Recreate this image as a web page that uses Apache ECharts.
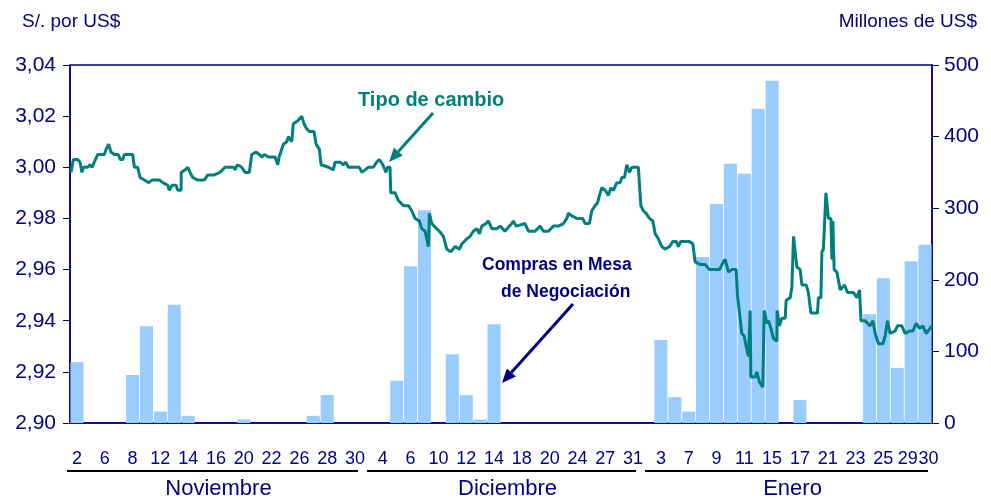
<!DOCTYPE html>
<html>
<head>
<meta charset="utf-8">
<script src="https://cdn.jsdelivr.net/npm/echarts@6.0.0/dist/echarts.min.js"></script>
<style>
  html, body { margin: 0; padding: 0; background: #fff; }
  #chart { width: 991px; height: 500px; }
</style>
</head>
<body>
<div id="chart"></div>
<script>
// business days, Nov 2 .. Jan 30
var days = ['2','5','6','7','8','9','12','13','14','15','16','19','20','21','22','23','26','27','28','29','30',
            '3','4','5','6','7','10','11','12','13','14','17','18','19','20','21','24','26','27','28','31',
            '2','3','4','7','8','9','10','11','14','15','16','17','18','21','22','23','24','25','28','29','30'];
var monthNames = ['Noviembre', 'Diciembre', 'Enero'];
var monthDays = [21, 20, 21];

// Compras en Mesa de Negociacion (millones de US$)
var compras = [85,0,0,0,67,135,16,165,10,0,0,0,5,0,0,0,0,10,39,0,0,
               0,0,59,219,297,0,96,39,5,138,0,0,0,0,0,0,0,0,0,0,
               0,116,36,16,232,306,362,348,439,478,0,32,0,0,0,0,152,202,77,226,249];

// Tipo de cambio (S/. por US$), [dia (posicion), valor]
var tipoCambio = [
  [0.07,2.998],[0.24,3.003],[0.55,3.003],[0.72,3.002],[0.86,2.998],[0.96,3.000],[1.27,3.000],[1.44,3.001],
  [1.58,3.000],[1.75,3.002],[1.99,3.005],[2.47,3.005],[2.59,3.007],[2.78,3.009],[2.95,3.006],[3.19,3.005],
  [3.47,3.005],[3.62,3.003],[3.79,3.003],[3.91,3.005],[4.51,3.005],[4.63,3.000],[4.87,3.000],[5.04,2.996],
  [5.35,2.995],[5.66,2.994],[5.90,2.995],[6.42,2.995],[6.67,2.994],[7.03,2.993],[7.14,2.991],[7.34,2.993],
  [7.63,2.993],[7.75,2.991],[7.99,2.991],[8.00,2.998],[8.29,2.999],[8.47,3.000],[8.63,2.998],[8.83,2.996],
  [9.19,2.995],[9.66,2.995],[9.91,2.997],[10.38,2.997],[10.79,2.998],[11.15,3.000],[11.51,3.000],[11.80,3.000],
  [11.87,2.999],[12.04,3.001],[12.35,3.000],[12.59,2.998],[12.90,2.998],[13.07,3.005],[13.38,3.006],[13.62,3.005],
  [13.79,3.004],[13.98,3.005],[14.27,3.004],[14.75,3.004],[14.94,3.001],[15.04,3.004],[15.16,3.006],[15.35,3.009],
  [15.59,3.010],[15.71,3.012],[15.95,3.010],[16.06,3.017],[16.35,3.018],[16.67,3.020],[16.83,3.017],[17.03,3.015],
  [17.22,3.014],[17.55,3.014],[17.70,3.009],[17.94,3.007],[18.06,3.001],[18.58,3.000],[18.94,2.999],[19.06,3.002],
  [19.42,3.002],[19.66,3.001],[19.83,3.002],[20.02,3.000],[20.38,3.000],[20.81,3.000],[20.99,2.998],[21.22,2.999],
  [21.46,3.000],[21.82,3.000],[22.06,3.002],[22.25,3.003],[22.50,3.001],[22.73,2.998],[22.83,3.000],[23.02,3.000],
  [23.07,2.990],[23.38,2.990],[23.62,2.987],[23.98,2.985],[24.34,2.985],[24.58,2.983],[24.82,2.980],[25.13,2.979],
  [25.30,2.976],[25.54,2.975],[25.78,2.969],[25.85,2.982],[26.02,2.978],[26.19,2.977],[26.57,2.975],[26.86,2.973],
  [27.10,2.968],[27.39,2.967],[27.70,2.969],[28.01,2.968],[28.18,2.970],[28.54,2.972],[28.78,2.973],[29.01,2.975],
  [29.26,2.976],[29.45,2.974],[29.62,2.977],[29.93,2.978],[30.09,2.979],[30.34,2.976],[30.70,2.976],[30.94,2.977],
  [31.29,2.975],[31.60,2.977],[31.78,2.978],[31.89,2.979],[32.09,2.977],[32.73,2.978],[32.97,2.975],[33.45,2.975],
  [33.81,2.977],[34.05,2.975],[34.41,2.975],[34.77,2.977],[35.13,2.977],[35.49,2.978],[35.73,2.980],[35.85,2.982],
  [36.09,2.981],[36.45,2.980],[36.88,2.980],[37.05,2.978],[37.36,2.978],[37.53,2.983],[37.77,2.985],[37.94,2.986],
  [38.08,2.989],[38.25,2.992],[38.49,2.991],[38.73,2.989],[38.90,2.992],[39.09,2.991],[39.33,2.994],[39.57,2.994],
  [39.69,2.996],[39.88,2.996],[40.05,3.001],[40.24,2.998],[40.41,3.000],[40.88,3.000],[41.06,2.985],[41.24,2.983],
  [41.44,2.982],[41.68,2.980],[41.92,2.979],[42.09,2.974],[42.32,2.972],[42.57,2.969],[42.81,2.968],[43.12,2.969],
  [43.36,2.971],[43.60,2.971],[43.76,2.969],[43.93,2.971],[44.24,2.971],[44.55,2.971],[44.80,2.970],[44.96,2.963],
  [45.32,2.962],[45.68,2.962],[45.99,2.960],[46.71,2.960],[47.00,2.963],[47.12,2.964],[47.36,2.959],[47.60,2.960],
  [47.91,2.960],[48.01,2.950],[48.15,2.950],[48.32,2.935],[48.49,2.934],[48.63,2.930],[48.80,2.926],[48.92,2.944],
  [48.97,2.918],[49.28,2.918],[49.40,2.920],[49.59,2.916],[49.83,2.914],[49.93,2.944],[50.12,2.939],[50.24,2.940],
  [50.41,2.937],[50.60,2.933],[50.84,2.932],[50.86,2.944],[51.03,2.938],[51.20,2.941],[51.44,2.941],[51.51,2.948],
  [51.80,2.949],[51.92,2.953],[52.04,2.973],[52.28,2.961],[52.52,2.960],[52.64,2.954],[52.95,2.954],[53.11,2.951],
  [53.29,2.943],[53.76,2.943],[53.83,2.949],[54.01,2.949],[54.08,2.967],[54.19,2.968],[54.37,2.990],[54.55,2.980],
  [54.73,2.980],[54.80,2.964],[54.87,2.979],[54.96,2.960],[55.16,2.959],[55.40,2.952],[55.71,2.954],[55.92,2.951],
  [56.35,2.951],[56.60,2.949],[56.79,2.952],[56.89,2.940],[57.19,2.940],[57.55,2.938],[57.75,2.940],[57.91,2.935],
  [58.15,2.931],[58.47,2.931],[58.63,2.934],[58.80,2.940],[58.99,2.935],[59.35,2.936],[59.52,2.938],[59.83,2.938],
  [60.07,2.935],[60.38,2.936],[60.63,2.936],[60.86,2.939],[61.10,2.937],[61.34,2.938],[61.58,2.935],[61.99,2.938]
];

var navy = '#000080';
var teal = '#00807c';
var regular = '"Liberation Sans", Arial, sans-serif';
var last = days.length - 1;

function arrow(x1, y1, x2, y2, color) {
  var a = Math.atan2(y2 - y1, x2 - x1);
  var len = 14, w = 6;
  var bx = x2 - len * Math.cos(a), by = y2 - len * Math.sin(a);
  return {
    type: 'group',
    children: [
      { type: 'line', shape: { x1: x1, y1: y1, x2: bx, y2: by }, style: { stroke: color, lineWidth: 3 } },
      { type: 'polygon', shape: { points: [[x2, y2],
          [bx + w * Math.sin(a), by - w * Math.cos(a)],
          [bx - w * Math.sin(a), by + w * Math.cos(a)]] }, style: { fill: color } }
    ]
  };
}

var dayLabel = {
  color: navy, fontFamily: regular, fontSize: 18, margin: 27, hideOverlap: false,
  rich: {
    l: { color: navy, fontFamily: regular, fontSize: 18, padding: [0, 7, 0, 0] },
    r: { color: navy, fontFamily: regular, fontSize: 18, padding: [0, 0, 0, 7] }
  }
};

var chart = echarts.init(document.getElementById('chart'));
var option = {
  animation: false,
  grid: { left: 70, right: 59, top: 65, bottom: 77, show: true, borderColor: navy, borderWidth: 1.5 },
  xAxis: [{
    type: 'category',
    data: days,
    boundaryGap: true,
    axisLine: { lineStyle: { color: navy, width: 1.5 } },
    axisTick: { show: false },
    axisLabel: Object.assign({}, dayLabel, {
      interval: function (i) { return i % 2 === 0 && i !== last; },
      formatter: function (v, i) { return i === last - 1 ? '{l|' + v + '}' : v; }
    })
  }, {
    type: 'value', min: 0, max: days.length, show: false
  }, {
    // last day label ("30") sits right against "29"
    type: 'category',
    data: days,
    position: 'bottom',
    axisLine: { show: false },
    axisTick: { show: false },
    axisLabel: Object.assign({}, dayLabel, {
      interval: function (i) { return i === last; },
      formatter: function (v) { return '{r|' + v + '}'; }
    })
  }],
  yAxis: [{
    type: 'value', min: 2.90, max: 3.04, interval: 0.02,
    axisLine: { show: true, lineStyle: { color: navy, width: 1.5 } },
    axisTick: { show: true, length: 7, lineStyle: { color: navy } },
    splitLine: { show: false },
    axisLabel: {
      color: navy, fontFamily: regular, fontSize: 21, margin: 14,
      formatter: function (v) { return v.toFixed(2).replace('.', ','); }
    }
  }, {
    type: 'value', min: 0, max: 500, interval: 100,
    axisLine: { show: true, lineStyle: { color: navy, width: 1.5 } },
    axisTick: { show: true, length: 7, lineStyle: { color: navy } },
    splitLine: { show: false },
    axisLabel: { color: navy, fontFamily: regular, fontSize: 21, margin: 12 }
  }],
  series: [{
    name: 'Compras en Mesa de Negociación',
    type: 'bar',
    xAxisIndex: 0, yAxisIndex: 1,
    data: compras,
    barCategoryGap: '6%',
    itemStyle: { color: '#99ccff' },
    z: 2
  }, {
    name: 'Tipo de cambio',
    type: 'line',
    xAxisIndex: 1, yAxisIndex: 0,
    data: tipoCambio,
    symbol: 'none',
    lineStyle: { color: teal, width: 3 },
    z: 3
  }]
};
chart.setOption(option);

// month labels + underlines, placed from the axis scale
var graphics = [
  { type: 'text', left: 22, top: 12, style: { text: 'S/. por US$', fill: navy, font: '19px ' + regular } },
  { type: 'text', right: 14, top: 12, style: { text: 'Millones de US$', fill: navy, font: '19px ' + regular } },
  { type: 'text', left: 358, top: 90, style: { text: 'Tipo de cambio', fill: teal, font: 'bold 20px ' + regular } },
  arrow(433, 113, 389, 162, teal),
  { type: 'text', left: 482, top: 256, style: { text: 'Compras en Mesa', fill: navy, font: 'bold 17.5px ' + regular } },
  { type: 'text', left: 501, top: 283, style: { text: 'de Negociación', fill: navy, font: 'bold 17.5px ' + regular } },
  arrow(573, 304, 502, 383, navy)
];
var start = 0;
monthNames.forEach(function (m, k) {
  var x1 = chart.convertToPixel({ xAxisIndex: 1 }, start) - 3;
  var x2 = chart.convertToPixel({ xAxisIndex: 1 }, start + monthDays[k]) - 4;
  if (k > 0) x1 += 8;
  graphics.push({ type: 'line', shape: { x1: x1, y1: 471, x2: x2, y2: 471 }, style: { stroke: '#000', lineWidth: 2 } });
  graphics.push({ type: 'text', x: (x1 + x2) / 2 + 6, y: 489,
    style: { text: m, fill: navy, font: '22px ' + regular, textAlign: 'center', textVerticalAlign: 'middle' } });
  start += monthDays[k];
});
chart.setOption({ graphic: graphics });
</script>
</body>
</html>
